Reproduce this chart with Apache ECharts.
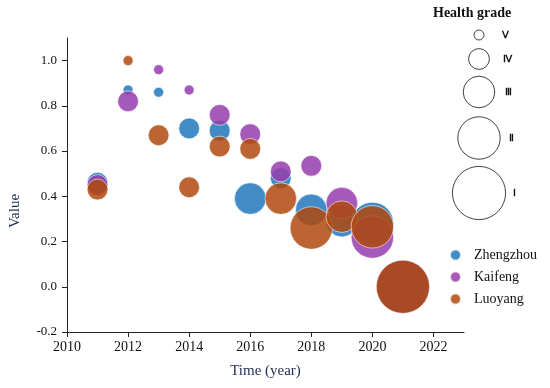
<!DOCTYPE html>
<html>
<head>
<meta charset="utf-8">
<script src="https://cdn.jsdelivr.net/npm/echarts@6/dist/echarts.min.js"></script>
<style>html,body{margin:0;padding:0;background:#fff;}#c{width:550px;height:388px;}</style>
</head>
<body>
<div id="c"></div>
<script>
const years = [2011, 2012, 2013, 2014, 2015, 2016, 2017, 2018, 2019, 2020, 2021];
const zhengzhouValues = [0.46, 0.87, 0.86, 0.70, 0.69, 0.39, 0.48, 0.34, 0.29, 0.28, 0.0];
const zhengzhouGrades = [4, 5, 5, 4, 4, 3, 4, 3, 3, 2, 1];
const kaifengValues = [0.45, 0.82, 0.96, 0.87, 0.76, 0.675, 0.51, 0.535, 0.37, 0.22, 0.0];
const kaifengGrades = [4, 4, 5, 5, 4, 4, 4, 4, 3, 2, 1];
const luoyangValues = [0.43, 1.0, 0.67, 0.44, 0.62, 0.61, 0.39, 0.26, 0.31, 0.265, 0.0];
const luoyangGrades = [4, 5, 4, 4, 4, 4, 3, 2, 3, 2, 1];
const seriesNames = ['Zhengzhou', 'Kaifeng', 'Luoyang'];
const gradeNumbers = [5, 4, 3, 2, 1];
const gradeLabels = ['Ⅴ', 'Ⅳ', 'Ⅲ', 'Ⅱ', 'Ⅰ'];
const xTicks = [2010, 2012, 2014, 2016, 2018, 2020, 2022];
const yTicks = [-0.2, 0.0, 0.2, 0.4, 0.6, 0.8, 1.0];

const FONT = '"Liberation Serif", "Times New Roman", serif';
const colors = ['#2177bc', '#953dad', '#b0490e'];
function gradeSize(g) { return 10 + (5 - g) * 10.8; }

function build(vals, grades) {
  return years.map((y, i) => [y, vals[i], grades[i]]);
}
const allData = [
  build(zhengzhouValues, zhengzhouGrades),
  build(kaifengValues, kaifengGrades),
  build(luoyangValues, luoyangGrades)
];

const chart = echarts.init(document.getElementById('c'), null, {renderer: 'canvas'});

// size legend graphics
const legendCx = 479;
const legendCy = [35, 59, 92, 138, 193];
const legendLabelX = [502, 503, 505, 509, 513];
const graphics = [{
  type: 'text', left: 433, top: 6,
  style: {text: 'Health grade', font: 'bold 14px ' + FONT, fill: '#111'}
}];
gradeNumbers.forEach((g, i) => {
  graphics.push({
    type: 'circle',
    shape: {cx: legendCx, cy: legendCy[i], r: gradeSize(g) / 2},
    style: {fill: 'none', stroke: '#444', lineWidth: 1}
  });
  graphics.push({
    type: 'text', x: legendLabelX[i], y: legendCy[i],
    style: {text: gradeLabels[i], font: 'bold 10px ' + FONT, fill: '#111', verticalAlign: 'middle', align: 'left'}
  });
});

chart.setOption({
  animation: false,
  backgroundColor: '#fff',
  grid: {left: 65, right: 86, top: 38, bottom: 56, containLabel: false},
  legend: {
    data: seriesNames,
    orient: 'vertical',
    left: 444, top: 243,
    icon: 'circle',
    itemWidth: 11, itemHeight: 11, itemGap: 8,
    textStyle: {fontFamily: FONT, fontSize: 14, color: '#111', padding: [0, 0, 0, 8]}
  },
  xAxis: {
    type: 'value', min: 2010, max: 2023, interval: 2,
    name: 'Time (year)', nameLocation: 'middle', nameGap: 32,
    nameTextStyle: {fontFamily: FONT, fontSize: 15, color: '#1f2d50'},
    axisLine: {show: true, onZero: false, lineStyle: {color: '#222', width: 1}},
    axisTick: {show: true, length: 5, lineStyle: {color: '#222'}, customValues: xTicks},
    axisLabel: {fontFamily: FONT, fontSize: 14, color: '#111', margin: 8, customValues: xTicks,
      formatter: v => String(Math.round(v))},
    splitLine: {show: false}
  },
  yAxis: {
    type: 'value', min: -0.2, max: 1.1, interval: 0.2,
    name: 'Value', nameLocation: 'middle', nameGap: 44,
    nameTextStyle: {fontFamily: FONT, fontSize: 15, color: '#1f2d50', padding: [0, 52, 0, 0]},
    axisLine: {show: true, onZero: false, lineStyle: {color: '#222', width: 1}},
    axisTick: {show: true, length: 5, lineStyle: {color: '#222'}, customValues: yTicks},
    axisLabel: {fontFamily: FONT, fontSize: 13, color: '#111', margin: 10, customValues: yTicks,
      formatter: v => Number(v).toFixed(1)},
    splitLine: {show: false}
  },
  graphic: graphics,
  series: seriesNames.map((n, i) => ({
    name: n,
    type: 'scatter',
    data: allData[i],
    symbolSize: d => gradeSize(d[2]),
    itemStyle: {color: colors[i], opacity: 0.85, borderColor: 'rgba(255,255,255,0.85)', borderWidth: 0.8},
    z: 2 + i
  }))
});
</script>
</body>
</html>
